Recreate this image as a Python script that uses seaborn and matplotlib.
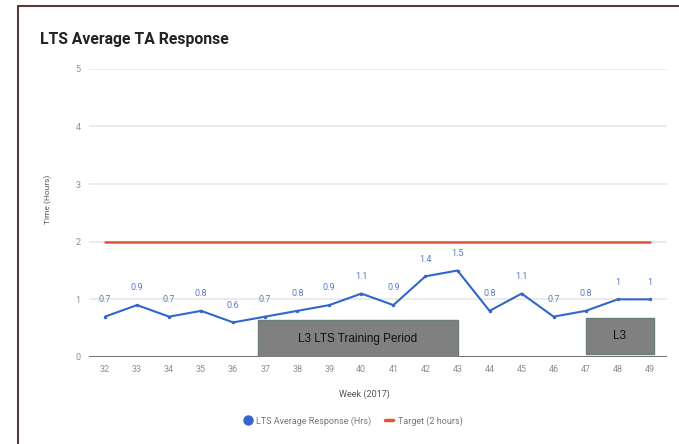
import numpy as np
import pandas as pd
import matplotlib
matplotlib.use("Agg")
import matplotlib.pyplot as plt
import seaborn as sns
from matplotlib.lines import Line2D
from matplotlib.patches import Rectangle

# data
weeks = [32, 33, 34, 35, 36, 37, 38, 39, 40, 41, 42, 43, 44, 45, 46, 47, 48, 49]
response = [0.7, 0.9, 0.7, 0.8, 0.6, 0.7, 0.8, 0.9, 1.1, 0.9, 1.4, 1.5, 0.8, 1.1, 0.7, 0.8, 1, 1]
target = [2] * len(weeks)
y_ticks = [0, 1, 2, 3, 4, 5]
# shaded periods: (start week, end week, bottom, top, label)
periods = [(36.77, 43.01, 0.0, 0.64, "L3 LTS Training Period"),
           (47.0, 49.12, 0.05, 0.68, "L3")]

blue = "#3366cc"
red = "#e2533b"

sns.set_style("white")
plt.rcParams['font.family'] = ['Roboto', 'DejaVu Sans']

df = pd.DataFrame({"week": weeks, "response": response, "target": target})

fig = plt.figure(figsize=(6.79, 4.44), dpi=100)
ax = fig.add_axes([0.131, 0.196, 0.851, 0.649])

for y in y_ticks[1:]:
    ax.axhline(y, color="#e6e6e6", lw=1.1, zorder=0)

sns.lineplot(data=df, x="week", y="target", ax=ax, color=red, lw=1.8, zorder=2)
sns.lineplot(data=df, x="week", y="response", ax=ax, color=blue, lw=1.5,
             marker="o", markersize=2.5, markeredgewidth=0, zorder=3)

for w, v in zip(weeks, response):
    lab = ("%g" % v)
    ax.text(w, v + 0.22, lab, ha="center", va="bottom", fontsize=6.5,
            color="#5a7bc4", zorder=4)

for x0, x1, y0, y1, lab in periods:
    ax.add_patch(Rectangle((x0, y0), x1 - x0, y1 - y0, facecolor="#808080",
                           edgecolor="#6d7d78", lw=1, zorder=5))
    ax.text((x0 + x1) / 2, (y0 + y1) / 2, lab, ha="center", va="center",
            fontsize=8.5, family="Liberation Sans", color="#111111", zorder=6)

ax.axhline(0, color="#555555", lw=1.2, zorder=4)

ax.set_xlim(31.5, 49.53)
ax.set_ylim(0, 5)
ax.set_xticks(weeks)
ax.set_yticks(y_ticks)
ax.tick_params(axis="both", length=0, labelsize=6.5, labelcolor="#8f8f8f", pad=6)
ax.set_xlabel("")
ax.set_ylabel("")
sns.despine(ax=ax, left=True, bottom=True, top=True, right=True)

fig.text(0.059, 0.91, "LTS Average TA Response", fontsize=11.3, fontweight="bold",
         color="#222222", va="center")
fig.text(0.071, 0.55, "Time (Hours)", rotation=90, fontsize=6, color="#555555",
         ha="center", va="center")
fig.text(0.537, 0.113, "Week (2017)", fontsize=6.5, color="#555555",
         ha="center", va="center")

handles = [Line2D([], [], color=blue, marker="o", lw=0, markersize=6.5),
           Line2D([], [], color=red, lw=2.5)]
fig.legend(handles, ["LTS Average Response (Hrs)", "Target (2 hours)"],
           loc="center", bbox_to_anchor=(0.52, 0.052), ncol=2, frameon=False,
           fontsize=6.5, labelcolor="#777777", handlelength=0.9, columnspacing=1.5,
           handletextpad=0.5)

# frame lines on the left and top edges
fig.add_artist(Line2D([0.027, 0.027], [0, 0.987], color="#5c3a3a", lw=1.5))
fig.add_artist(Line2D([0.027, 1.0], [0.987, 0.987], color="#5c3a3a", lw=1.5))

plt.savefig("out.png", dpi=100)
